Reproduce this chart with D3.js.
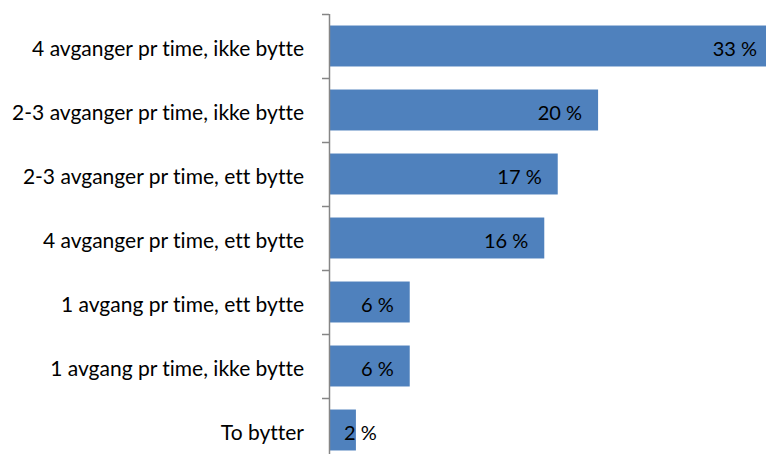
<!DOCTYPE html>
<html><head><meta charset="utf-8">
<script src="https://cdn.jsdelivr.net/npm/d3@7"></script>
<style>body{margin:0;background:#fff}svg{display:block}text{font-family:Lato,"Liberation Sans",sans-serif;font-variant-ligatures:none;font-feature-settings:"liga" 0,"clig" 0}</style>
</head><body>
<svg id="c" width="766" height="454"></svg>
<script>
const categories = ["4 avganger pr time, ikke bytte","2-3 avganger pr time, ikke bytte","2-3 avganger pr time, ett bytte","4 avganger pr time, ett bytte","1 avgang pr time, ett bytte","1 avgang pr time, ikke bytte","To bytter"];
const values = [33, 20, 17, 16, 6, 6, 2];
const valueLabels = ["33 %","20 %","17 %","16 %","6 %","6 %","2 %"];

const svg = d3.select("#c");
const x0 = 329;
const x = d3.scaleLinear().domain([0, 33]).range([x0, 773]);
const y = d3.scaleBand().domain(categories).range([14, 462]).paddingInner(0.36).paddingOuter(0.18);

svg.selectAll("rect.bar").data(values).join("rect").attr("class","bar")
  .attr("x", x(0)).attr("y", (d,i)=>y(categories[i]))
  .attr("width", d=>x(d)-x(0)).attr("height", y.bandwidth())
  .attr("fill", "#4F81BD");

const g = svg.append("g");
g.append("line").attr("x1", x0+0.5).attr("x2", x0+0.5).attr("y1", 14).attr("y2", 462)
  .attr("stroke", "#868686").attr("stroke-width", 1.5);
const bounds = d3.range(categories.length+1).map(i => 14 + i*y.step());
g.selectAll("line.t").data(bounds).join("line").attr("class","t")
  .attr("x1", x0-7).attr("x2", x0).attr("y1", d=>Math.round(d)+0.5).attr("y2", d=>Math.round(d)+0.5)
  .attr("stroke", "#868686").attr("stroke-width", 1.5);

svg.selectAll("text.cat").data(categories).join("text").attr("class","cat")
  .attr("x", 304).attr("y", d=>y(d)+y.bandwidth()/2+1)
  .attr("text-anchor","end").attr("dominant-baseline","central")
  .attr("font-size", 21).attr("fill","#000").text(d=>d);

svg.selectAll("text.val").data(values).join("text").attr("class","val")
  .attr("y", (d,i)=>y(categories[i])+y.bandwidth()/2+2)
  .attr("text-anchor","end").attr("dominant-baseline","central")
  .attr("font-size", 20).attr("fill","#000").text((d,i)=>valueLabels[i])
  .each(function(d){
    const w = this.getComputedTextLength();
    d3.select(this).attr("x", Math.max(x(d)-16, x(0)+15+w));
  });
</script>
</body></html>
